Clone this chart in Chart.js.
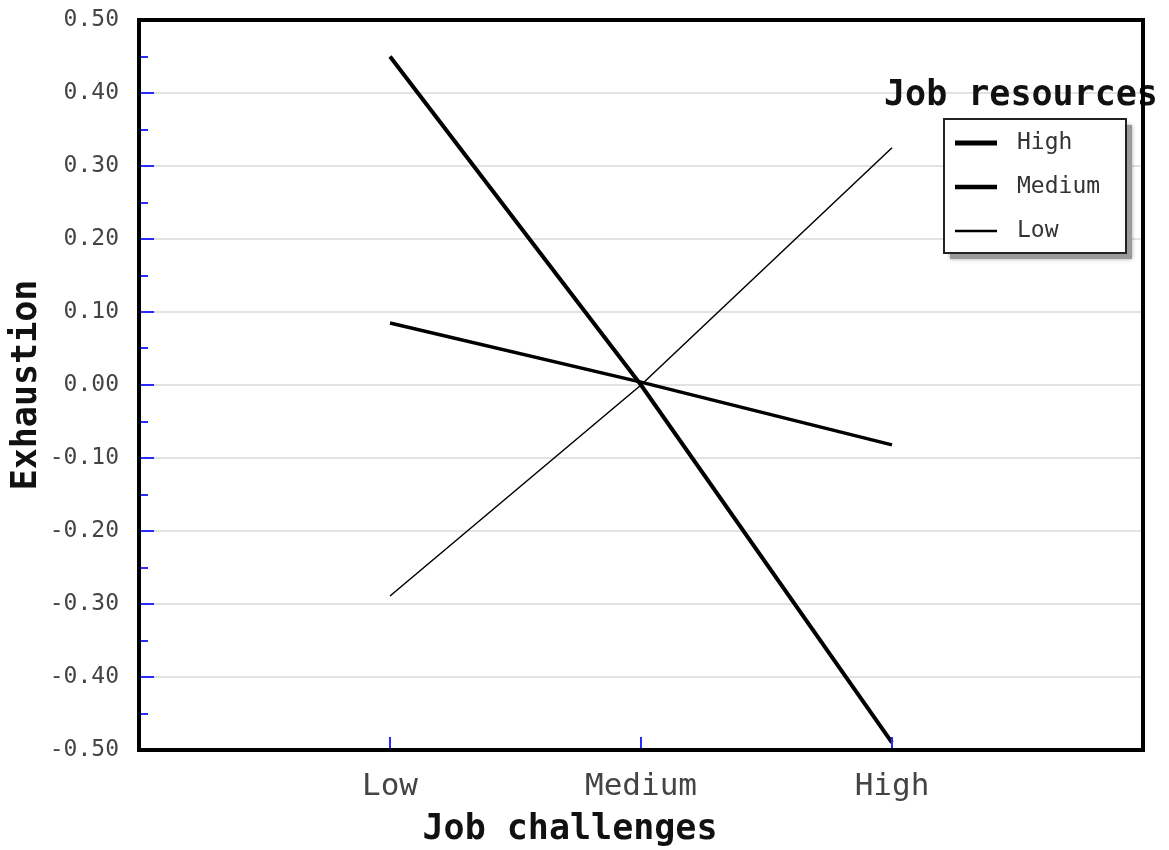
<!DOCTYPE html>
<html>
<head>
<meta charset="utf-8">
<script src="https://cdn.jsdelivr.net/npm/chart.js@4.4.1/dist/chart.umd.min.js"></script>
<style>
  html, body { margin: 0; padding: 0; background: #fff; }
  #wrap { width: 1169px; height: 850px; }
</style>
</head>
<body>
<div id="wrap"><canvas id="chart" width="1169" height="850"></canvas></div>
<script>
const xLabels = ['Low', 'Medium', 'High'];
const seriesNames = ['High', 'Medium', 'Low'];
const highValues = [0.45, 0.0, -0.49];
const mediumValues = [0.085, 0.004, -0.082];
const lowValues = [-0.289, 0.0, 0.325];
const lineWidths = [4, 3.5, 1.5];
const legendTitle = 'Job resources';
const xTitle = 'Job challenges';

const MONO = '"DejaVu Sans Mono", "Liberation Mono", monospace';

function toPoints(values) {
  return values.map((v, i) => ({ x: i, y: v }));
}

function isMajor(v) {
  return Math.abs(Math.round(v * 10) - v * 10) < 1e-6;
}

const frame = {
  id: 'frame',
  afterDatasetsDraw(chart) {
    const { ctx, chartArea: a, scales } = chart;
    ctx.save();

    // x axis title, placed a bit left of the plot centre like the original
    ctx.fillStyle = '#111';
    ctx.font = 'bold 35px ' + MONO;
    ctx.textBaseline = 'middle';
    ctx.textAlign = 'center';
    ctx.fillText(xTitle, 570, 830);

    // legend title (sits under the frame border)
    ctx.textAlign = 'left';
    ctx.fillText(legendTitle, 884, 96);

    // legend box with drop shadow
    const bx = 944, by = 119, bw = 182, bh = 134;
    ctx.fillStyle = '#9a9a9a';
    ctx.shadowColor = 'rgba(0,0,0,0.35)';
    ctx.shadowBlur = 4;
    ctx.fillRect(bx + 6, by + 6, bw, bh);
    ctx.shadowBlur = 0;
    ctx.shadowColor = 'transparent';
    ctx.fillStyle = '#fff';
    ctx.fillRect(bx, by, bw, bh);
    ctx.strokeStyle = '#222';
    ctx.lineWidth = 2;
    ctx.strokeRect(bx, by, bw, bh);

    ctx.font = '23px ' + MONO;
    chart.data.datasets.forEach((ds, i) => {
      const y = 143 + i * 44;
      ctx.strokeStyle = '#000';
      ctx.lineWidth = ds.borderWidth + 1;
      ctx.beginPath();
      ctx.moveTo(955, y);
      ctx.lineTo(997, y);
      ctx.stroke();
      ctx.fillStyle = '#333';
      ctx.fillText(ds.label, 1017, y);
    });

    // blue tick marks on y axis
    ctx.strokeStyle = '#2a2aff';
    ctx.lineWidth = 2;
    scales.y.ticks.forEach((t) => {
      if (Math.abs(Math.abs(t.value) - 0.5) < 1e-6) return;
      const py = Math.round(scales.y.getPixelForValue(t.value));
      const len = isMajor(t.value) ? 15 : 9;
      ctx.beginPath();
      ctx.moveTo(a.left, py);
      ctx.lineTo(a.left + len, py);
      ctx.stroke();
    });
    // blue tick marks on x axis
    xLabels.forEach((_, i) => {
      const px = Math.round(scales.x.getPixelForValue(i));
      ctx.beginPath();
      ctx.moveTo(px, a.bottom);
      ctx.lineTo(px, a.bottom - 13);
      ctx.stroke();
    });

    // black frame
    ctx.strokeStyle = '#000';
    ctx.lineWidth = 4;
    ctx.strokeRect(a.left, a.top, a.right - a.left, a.bottom - a.top);
    ctx.restore();
  }
};

new Chart(document.getElementById('chart'), {
  type: 'line',
  data: {
    datasets: [
      { label: seriesNames[0], data: toPoints(highValues), borderWidth: lineWidths[0] },
      { label: seriesNames[1], data: toPoints(mediumValues), borderWidth: lineWidths[1] },
      { label: seriesNames[2], data: toPoints(lowValues), borderWidth: lineWidths[2] }
    ].map((d) => ({ ...d, borderColor: '#000', backgroundColor: '#000', pointRadius: 0, tension: 0 }))
  },
  options: {
    responsive: false,
    animation: false,
    layout: { padding: { left: 0, top: 20, right: 26, bottom: 0 } },
    plugins: { legend: { display: false }, tooltip: { enabled: false } },
    scales: {
      x: {
        type: 'linear',
        min: -1,
        max: 3,
        afterFit: (s) => { s.height = 100; s.paddingLeft = 0; s.paddingRight = 0; },
        grid: { display: false, drawTicks: false },
        border: { display: false },
        ticks: {
          stepSize: 1,
          padding: 18,
          color: '#444',
          font: { family: MONO, size: 31 },
          callback: (v) => xLabels[v] ?? ''
        }
      },
      y: {
        min: -0.5,
        max: 0.5,
        afterFit: (s) => { s.width = 139; s.paddingTop = 0; s.paddingBottom = 0; },
        grid: {
          drawTicks: false,
          lineWidth: 2,
          color: (c) => (c.tick && isMajor(c.tick.value) && Math.abs(Math.abs(c.tick.value) - 0.5) > 1e-6 ? '#e2e2e2' : 'transparent')
        },
        border: { display: false },
        ticks: {
          stepSize: 0.05,
          padding: 20,
          autoSkip: false,
          color: '#444',
          font: { family: MONO, size: 23 },
          callback: (v) => (isMajor(v) ? (Math.abs(v) < 1e-9 ? 0 : v).toFixed(2) : '')
        },
        title: {
          display: true,
          text: 'Exhaustion',
          color: '#111',
          font: { family: MONO, size: 35, weight: 'bold' },
          padding: { top: 6, bottom: 0 }
        }
      }
    }
  },
  plugins: [frame]
});
</script>
</body>
</html>
